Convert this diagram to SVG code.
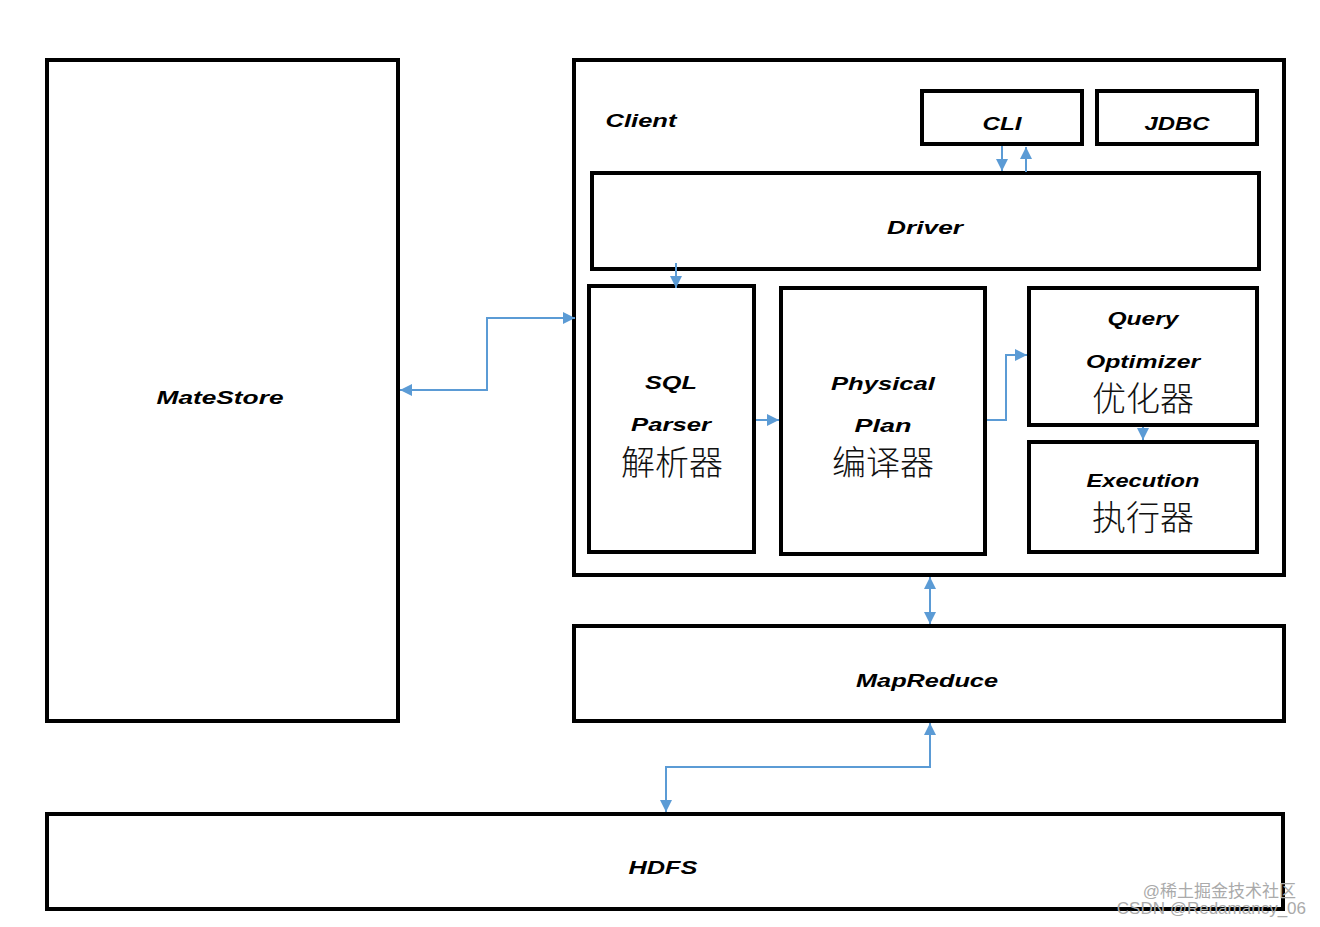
<svg xmlns="http://www.w3.org/2000/svg" width="1320" height="927" viewBox="0 0 1320 927">
<style>
.box{fill:#fff;stroke:#000;stroke-width:4}
.en{font-family:"Liberation Sans",Arial,sans-serif;font-weight:bold;font-style:italic;font-size:19px;fill:#000;text-anchor:middle}
.zh{font-family:"Noto Sans CJK SC",sans-serif;font-weight:300;font-size:34px;fill:#111;text-anchor:middle}
.wm{font-family:"Liberation Sans","Noto Sans CJK SC",sans-serif;font-size:17px;fill:#aaa;text-anchor:end}
.c{fill:none;stroke:#5b9bd5;stroke-width:2}
</style>
<defs>
<marker id="ah" viewBox="0 0 10 10" refX="10" refY="5" markerWidth="6" markerHeight="6" orient="auto-start-reverse" markerUnits="strokeWidth">
<path d="M0,0 L10,5 L0,10 z" fill="#5b9bd5"/>
</marker>
</defs>
<rect width="1320" height="927" fill="#fff"/>
<g id="matestore"><rect class="box" x="47" y="60" width="351" height="661"/><text class="en" x="220" y="404" textLength="127" lengthAdjust="spacingAndGlyphs">MateStore</text></g>
<g id="client"><rect class="box" x="574" y="60" width="710" height="515"/><text class="en" x="641" y="127" textLength="71" lengthAdjust="spacingAndGlyphs">Client</text></g>
<g id="cli"><rect class="box" x="922" y="91" width="160" height="53"/><text class="en" x="1002" y="130" textLength="39" lengthAdjust="spacingAndGlyphs">CLI</text></g>
<g id="jdbc"><rect class="box" x="1097" y="91" width="160" height="53"/><text class="en" x="1177" y="130" textLength="65" lengthAdjust="spacingAndGlyphs">JDBC</text></g>
<g id="driver"><rect class="box" x="592" y="173" width="667" height="96"/><text class="en" x="925" y="234" textLength="76" lengthAdjust="spacingAndGlyphs">Driver</text></g>
<g id="sqlparser"><rect class="box" x="589" y="286" width="165" height="266"/><text class="en" x="671" y="389" textLength="52" lengthAdjust="spacingAndGlyphs">SQL</text><text class="en" x="671" y="431" textLength="80" lengthAdjust="spacingAndGlyphs">Parser</text><text class="zh" x="672" y="475">解析器</text></g>
<g id="physicalplan"><rect class="box" x="781" y="288" width="204" height="266"/><text class="en" x="883" y="390" textLength="104" lengthAdjust="spacingAndGlyphs">Physical</text><text class="en" x="883" y="432" textLength="57" lengthAdjust="spacingAndGlyphs">Plan</text><text class="zh" x="883" y="475">编译器</text></g>
<g id="optimizer"><rect class="box" x="1029" y="288" width="228" height="137"/><text class="en" x="1143" y="325" textLength="71" lengthAdjust="spacingAndGlyphs">Query</text><text class="en" x="1143" y="368" textLength="114" lengthAdjust="spacingAndGlyphs">Optimizer</text><text class="zh" x="1143" y="411">优化器</text></g>
<g id="execution"><rect class="box" x="1029" y="442" width="228" height="110"/><text class="en" x="1143" y="487" textLength="113" lengthAdjust="spacingAndGlyphs">Execution</text><text class="zh" x="1143" y="530">执行器</text></g>
<g id="mapreduce"><rect class="box" x="574" y="626" width="710" height="95"/><text class="en" x="927" y="687" textLength="142" lengthAdjust="spacingAndGlyphs">MapReduce</text></g>
<g id="hdfs"><rect class="box" x="47" y="814" width="1236" height="95"/><text class="en" x="663" y="874" textLength="69" lengthAdjust="spacingAndGlyphs">HDFS</text></g>
<g id="connectors">
<path class="c" d="M1002,146 V171" marker-end="url(#ah)"/>
<path class="c" d="M1026,172 V147" marker-end="url(#ah)"/>
<path class="c" d="M676,263 V288" marker-end="url(#ah)"/>
<path class="c" d="M756,420 H779" marker-end="url(#ah)"/>
<path class="c" d="M987,420 H1006 V355 H1027" marker-end="url(#ah)"/>
<path class="c" d="M1143,427 V440" marker-end="url(#ah)"/>
<path class="c" d="M575,318 H487 V390 H400" marker-start="url(#ah)" marker-end="url(#ah)"/>
<path class="c" d="M930,577 V624" marker-start="url(#ah)" marker-end="url(#ah)"/>
<path class="c" d="M930,723 V767 H666 V812" marker-start="url(#ah)" marker-end="url(#ah)"/>
</g>
<g id="watermark"><text class="wm" x="1296" y="897">@稀土掘金技术社区</text><text class="wm" x="1306" y="914">CSDN @Redamancy_06</text></g>
</svg>
